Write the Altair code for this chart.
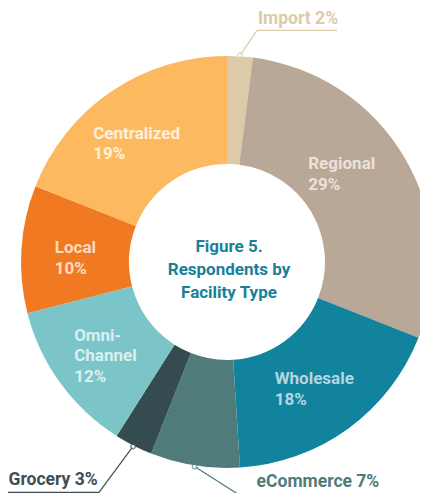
import math
import altair as alt
import pandas as pd

# ---- data ----
categories = ["Import", "Regional", "Wholesale", "eCommerce", "Grocery",
              "Omni-Channel", "Local", "Centralized"]
values = [2, 29, 18, 7, 3, 12, 10, 19]
slice_colors = ["#dccaa9", "#b9a797", "#11839d", "#4f7b7b", "#344b4f",
                "#7bc5c8", "#f17921", "#fdb95f"]
inside_labels = ["", "Regional\n29%", "Wholesale\n18%", "", "",
                 "Omni-\nChannel\n12%", "Local\n10%", "Centralized\n19%"]
inside_label_colors = ["#ffffff", "#ebe1d7", "#b5d6e0", "#ffffff", "#ffffff",
                       "#d9eff0", "#fddcc2", "#fff0da"]

callout_cats = ["Import", "Grocery", "eCommerce"]
callout_texts = ["Import 2%", "Grocery 3%", "eCommerce 7%"]
callout_colors = ["#dccaa9", "#3d4f53", "#4f7b7b"]

center_title = ["Figure 5.", "Respondents by", "Facility Type"]

# ---- layout ----
W, H = 412, 485
CX, CY = 219, 254
R_OUT, R_IN = 206, 98
R_DOT = 207
LABEL_R = 150
LABEL_DY = 6
LINE_H = 20.5
CHAR_W = 9.0
label_angle_nudge = [0, -8, 0, 0, 0, 0, 0, 0]  # degrees
elbow_dx = [17, -34, 61]
elbow_dy = [-25, 46, 39]
underline_len = [80, -94, 130]
text_dy = [-6, -7, -18]

df = pd.DataFrame({
    "cat": categories,
    "value": values,
    "ord": list(range(len(categories))),
})

arcs = alt.Chart(df).mark_arc(outerRadius=R_OUT, innerRadius=R_IN, clip=True).encode(
    theta=alt.Theta("value:Q", stack=True),
    order=alt.Order("ord:Q"),
    color=alt.Color("cat:N", scale=alt.Scale(domain=categories, range=slice_colors), legend=None),
    x=alt.value(CX), y=alt.value(CY),
)

# mid angles from the data
total = sum(values)
mid = {}
cum = 0
for c, v in zip(categories, values):
    mid[c] = (cum + v / 2) / total * 2 * math.pi
    cum += v

# inside labels: one row per line, left-aligned block centred on the slice's mid angle
rows_lab = []
for c, lab, col, nud in zip(categories, inside_labels, inside_label_colors, label_angle_nudge):
    if not lab:
        continue
    lines = lab.split("\n")
    a = mid[c] + math.radians(nud)
    ax = CX + LABEL_R * math.sin(a)
    ay = CY - LABEL_R * math.cos(a) + LABEL_DY
    bw = CHAR_W * max(len(s) for s in lines)
    n = len(lines)
    for k, s in enumerate(lines):
        rows_lab.append({"x": ax - bw / 2, "y": ay + (k - (n - 1) / 2) * LINE_H,
                         "t": s, "c": col})

labels = alt.Chart(pd.DataFrame(rows_lab)).mark_text(
    font="Roboto", fontWeight="bold", fontSize=17, align="left", baseline="middle"
).encode(
    x=alt.X("x:Q", scale=None), y=alt.Y("y:Q", scale=None),
    text="t:N", color=alt.Color("c:N", scale=None),
)

title_df = pd.DataFrame({"t": center_title, "k": list(range(len(center_title)))})
title_df["y"] = CY + 8 + (title_df["k"] - (len(center_title) - 1) / 2) * 23
title = alt.Chart(title_df).mark_text(
    font="Roboto", fontWeight="bold", fontSize=17,
    align="center", baseline="middle", color="#1a7f99",
).encode(text="t:N", x=alt.value(CX + 2), y=alt.Y("y:Q", scale=None))

rows_seg, rows_dot, rows_txt = [], [], []
for i, c in enumerate(callout_cats):
    a = mid[c]
    px = CX + R_DOT * math.sin(a)
    py = CY - R_DOT * math.cos(a)
    ex = px + elbow_dx[i]
    ey = py + elbow_dy[i]
    ux = ex + underline_len[i]
    col = callout_colors[i]
    rows_seg.append({"x": px, "y": py, "x2": ex, "y2": ey, "c": col})
    rows_seg.append({"x": ex, "y": ey, "x2": ux, "y2": ey, "c": col})
    rows_dot.append({"x": px, "y": py, "c": col})
    tx = max(min(ex, ux) + 1, 0.5)
    rows_txt.append({"x": tx, "y": ey + text_dy[i], "t": callout_texts[i], "c": col})

segs = alt.Chart(pd.DataFrame(rows_seg)).mark_rule(strokeWidth=1.2, clip=True).encode(
    x=alt.X("x:Q", scale=None), y=alt.Y("y:Q", scale=None),
    x2="x2:Q", y2="y2:Q",
    color=alt.Color("c:N", scale=None),
)
dots = alt.Chart(pd.DataFrame(rows_dot)).mark_point(
    shape="circle", size=22, filled=True, fill="white", strokeWidth=1.2, clip=True
).encode(
    x=alt.X("x:Q", scale=None), y=alt.Y("y:Q", scale=None),
    stroke=alt.Color("c:N", scale=None),
)
ctext = alt.Chart(pd.DataFrame(rows_txt)).mark_text(
    font="Roboto", fontWeight="bold", fontSize=17.5, align="left", baseline="alphabetic"
).encode(
    x=alt.X("x:Q", scale=None), y=alt.Y("y:Q", scale=None),
    text="t:N", color=alt.Color("c:N", scale=None),
)

chart = alt.layer(arcs, labels, title, segs, dots, ctext).properties(
    width=W, height=H,
    autosize=alt.AutoSizeParams(type="none"),
    padding=0,
).configure_view(stroke=None)

chart.save("out.html", embed_options={"renderer": "svg", "actions": False})
